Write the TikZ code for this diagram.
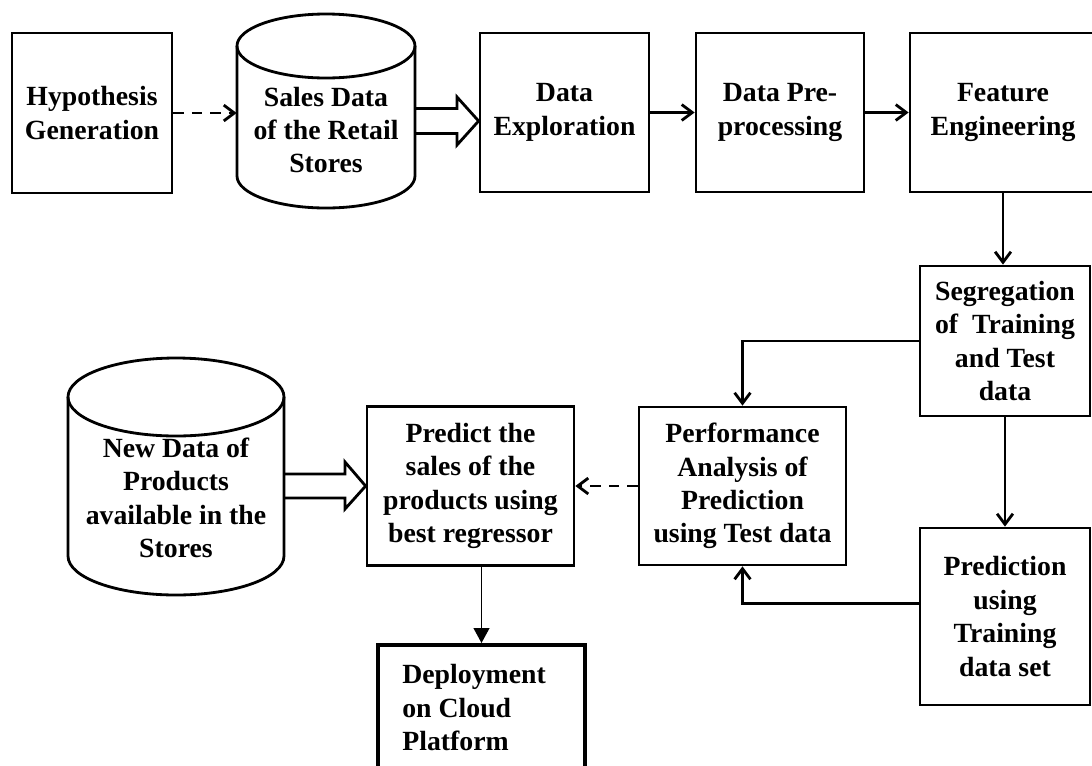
\documentclass[tikz,border=0pt]{standalone}
\usepackage{fontspec}
\setmainfont{Liberation Serif}
\usetikzlibrary{arrows.meta,calc}
\newcommand\boxfont{\bfseries\fontsize{15.8}{19}\selectfont}

\begin{document}
\begin{tikzpicture}[x=0.02cm,y=-0.02cm,
  box/.style={draw, line width=1.6pt, align=center, inner sep=0pt, font=\boxfont},
  txt/.style={align=center, inner sep=0pt, font=\boxfont},
  outline/.style={line width=1.6pt},
  flow/.style={line width=1.6pt, -{Straight Barb[length=6pt,width=9pt]}},
  dashflow/.style={flow, dash pattern=on 6pt off 4.5pt},
  bigarrow/.style={line width=1.6pt, line join=miter},
]
\fill[white] (0,0) rectangle (1092,765);
\useasboundingbox (0,0) rectangle (1092,765);

% top row
\node[box, minimum width=3.2cm, minimum height=3.2cm] (hyp) at (92,113) {Hypothesis\\Generation};

% data store: sales data
\draw[outline] (237,46) -- (237,176) arc[start angle=180, end angle=0, x radius=89, y radius=32] -- (415,46);
\draw[outline] (326,46) ellipse [x radius=89, y radius=32];
\node[txt, minimum width=3.56cm] (sales) at (326,130) {Sales Data\\of the Retail\\Stores};

\node[box, minimum width=3.38cm, minimum height=3.18cm] (de) at (564.5,112.5) {Data\\Exploration};
\node[box, minimum width=3.36cm, minimum height=3.18cm] (dp) at (780,112.5) {Data Pre-\\processing};
\node[box, minimum width=3.72cm, minimum height=3.18cm] (fe) at (1003,112.5) {Feature\\Engineering};

% right column
\node[box, minimum width=3.4cm, minimum height=3.0cm] (seg) at (1005,341) {Segregation\\of\ \ Training\\and Test\\data};
\node[box, minimum width=3.4cm, minimum height=3.54cm] (pred) at (1005,616.5) {Prediction\\using\\Training\\data set};

% middle row
\node[box, minimum width=4.14cm, minimum height=3.16cm] (pa) at (742.5,486) {Performance\\Analysis of\\Prediction\\using Test data};
\node[box, minimum width=4.14cm, minimum height=3.18cm] (predict) at (470.5,486) {Predict the\\sales of the\\products using\\best regressor};

% data store: new product data
\draw[outline] (68,397) -- (68,556) arc[start angle=180, end angle=0, x radius=108, y radius=39] -- (284,397);
\draw[outline] (176,397) ellipse [x radius=108, y radius=39];
\node[txt, minimum width=4.32cm] (newd) at (176,498) {New Data of\\Products\\available in the\\Stores};

% deployment
\node[draw, line width=2.3pt, minimum width=4.14cm, minimum height=3cm, anchor=north, inner sep=0pt] (dep) at (481.5,643) {};
\node[txt, align=left, anchor=north west] (deptext) at (402,664) {Deployment\\on Cloud\\Platform};

% block arrows out of the data stores
\draw[bigarrow] (sales.east |- 0,108.5) -- (457,108.5) -- (457,97) -- (de.west |- 0,121) -- (457,145) -- (457,133.5) -- (sales.east |- 0,133.5);
\draw[bigarrow] (newd.east |- 0,474) -- (345,474) -- (345,462) -- (predict.west |- 0,486) -- (345,509) -- (345,498) -- (newd.east |- 0,498);

% connectors
\draw[dashflow] (hyp.east) -- (hyp.east -| sales.west);
\draw[flow] (de.east) -- (dp.west);
\draw[flow] (dp.east) -- (fe.west);
\draw[flow] (fe.south) -- (fe.south |- seg.north);
\draw[flow] (seg.west) -| (pa.north);
\draw[flow] (seg.south) -- (pred.north);
\draw[flow] ([yshift=0.26cm]pred.west) -| (pa.south);
\draw[dashflow] (pa.west) -- (predict.east);
\draw[line width=0.9pt, -{Triangle[length=8.5pt,width=9pt]}] (dep.north |- predict.south) -- (dep.north);
\end{tikzpicture}
\end{document}
